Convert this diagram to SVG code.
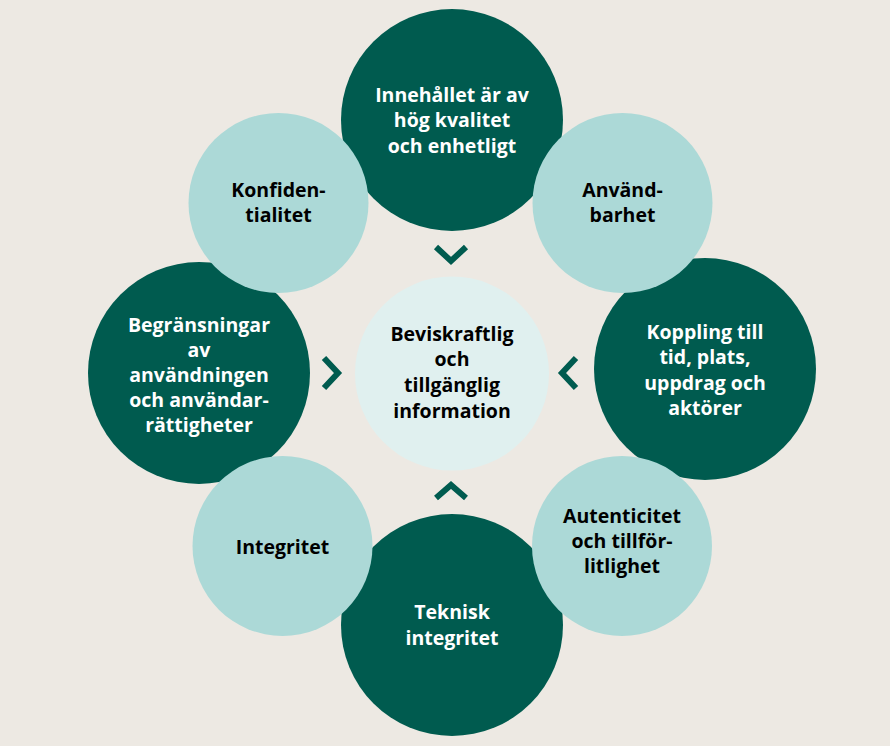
<svg xmlns="http://www.w3.org/2000/svg" width="890" height="746" viewBox="0 0 890 746">
<style>
.dark{fill:#005B4F}
.light{fill:#ACD9D7}
.core{fill:#E0F0EF}
text{font-family:"Open Sans","Noto Sans","Liberation Sans",sans-serif;font-weight:700;font-size:19.5px;text-anchor:middle}
.w{fill:#FFFFFF}
.b{fill:#000000}
.chev{fill:none;stroke:#005B4F;stroke-width:6}
</style>
<rect width="890" height="746" fill="#EDE9E3"/>
<g id="n-innehall"><circle class="dark" cx="452" cy="120" r="111"/><text class="w"><tspan x="452" y="102">Innehållet är av</tspan><tspan x="452" y="127">hög kvalitet</tspan><tspan x="452" y="153">och enhetligt</tspan></text></g>
<g id="n-koppling"><circle class="dark" cx="705" cy="369" r="111"/><text class="w"><tspan x="705" y="339">Koppling till</tspan><tspan x="705" y="364">tid, plats,</tspan><tspan x="705" y="390">uppdrag och</tspan><tspan x="705" y="415">aktörer</tspan></text></g>
<g id="n-teknisk"><circle class="dark" cx="452" cy="625" r="111"/><text class="w"><tspan x="452" y="619">Teknisk</tspan><tspan x="452" y="645">integritet</tspan></text></g>
<g id="n-begransningar"><circle class="dark" cx="199" cy="373" r="111"/><text class="w"><tspan x="199" y="332">Begränsningar</tspan><tspan x="199" y="357">av</tspan><tspan x="199" y="382">användningen</tspan><tspan x="199" y="407">och användar-</tspan><tspan x="199" y="432">rättigheter</tspan></text></g>
<g id="n-konfidentialitet"><circle class="light" cx="278.5" cy="203" r="90"/><text class="b"><tspan x="278.5" y="197">Konfiden-</tspan><tspan x="278.5" y="222">tialitet</tspan></text></g>
<g id="n-anvandbarhet"><circle class="light" cx="622.5" cy="203" r="90"/><text class="b"><tspan x="622.5" y="197">Använd-</tspan><tspan x="622.5" y="222">barhet</tspan></text></g>
<g id="n-autenticitet"><circle class="light" cx="622" cy="546" r="90"/><text class="b"><tspan x="622" y="523">Autenticitet</tspan><tspan x="622" y="548">och tillför-</tspan><tspan x="622" y="573">litlighet</tspan></text></g>
<g id="n-integritet"><circle class="light" cx="282.5" cy="546" r="90"/><text class="b"><tspan x="282.5" y="554">Integritet</tspan></text></g>
<g id="n-center"><circle class="core" cx="452" cy="373.5" r="97"/><text class="b"><tspan x="452" y="341">Beviskraftlig</tspan><tspan x="452" y="366">och</tspan><tspan x="452" y="392">tillgänglig</tspan><tspan x="452" y="418">information</tspan></text></g>
<g id="connectors">
<polyline class="chev" points="436,247 451,261 466,247"/>
<polyline class="chev" points="324,358 338,373 324,388"/>
<polyline class="chev" points="576,358 562,373 576,388"/>
<polyline class="chev" points="436,498 451,485 466,498"/>
</g>
</svg>
